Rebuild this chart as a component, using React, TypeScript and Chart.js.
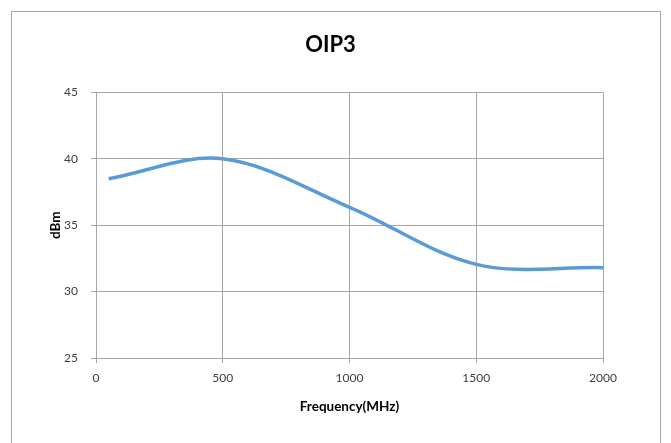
import React, { useEffect, useRef } from "react";
import { Chart, registerables } from "chart.js";

Chart.register(...registerables);

const frequencies = [50, 500, 1000, 1500, 2000];
const oip3 = [38.5, 40.0, 36.35, 32.05, 31.8];
const xTicks = [0, 500, 1000, 1500, 2000];
const yTicks = [25, 30, 35, 40, 45];

const FONT = "Lato, 'Open Sans', sans-serif";

const frame = {
  id: "frame",
  beforeDraw(chart: any) {
    const ctx = chart.ctx;
    ctx.save();
    ctx.fillStyle = "#ffffff";
    ctx.fillRect(0, 0, chart.width, chart.height);
    ctx.strokeStyle = "#a6a6a6";
    ctx.lineWidth = 1;
    ctx.strokeRect(11.5, 11.5, 649, 450);
    ctx.restore();
  },
};

export default function App() {
  const ref = useRef<HTMLCanvasElement | null>(null);
  useEffect(() => {
    if (!ref.current) return;
    const chart = new Chart(ref.current, {
      type: "line",
      data: {
        datasets: [
          {
            label: "OIP3",
            data: frequencies.map((f, i) => ({ x: f, y: oip3[i] })),
            borderColor: "#5b9bd5",
            borderWidth: 3.5,
            pointRadius: 0,
            tension: 0.34,
            fill: false,
          },
        ],
      },
      options: {
        responsive: false,
        animation: false,
        layout: { padding: { left: 58, right: 68, top: 0, bottom: 0 } },
        plugins: {
          legend: { display: false },
          tooltip: { enabled: false },
          title: {
            display: true,
            text: "OIP3",
            color: "#000000",
            font: { family: FONT, size: 22, weight: "bold" },
            padding: { top: 32, bottom: 34 },
          },
        },
        scales: {
          x: {
            type: "linear",
            min: 0,
            max: 2000,
            afterBuildTicks: (s: any) => {
              s.ticks = xTicks.map((v) => ({ value: v }));
            },
            afterFit: (s: any) => {
              s.height = 443 - 358;
            },
            grid: { color: "#a6a6a6", tickLength: 5, drawTicks: true },
            border: { color: "#a6a6a6" },
            ticks: {
              color: "#404040",
              padding: 8,
              font: { family: FONT, size: 12 },
              maxRotation: 0,
              callback: (v: any) => String(v),
            },
            title: {
              display: true,
              text: "Frequency(MHz)",
              color: "#000000",
              font: { family: FONT, size: 13.5, weight: "bold" },
              padding: { top: 0, bottom: 28 },
            },
          },
          y: {
            type: "linear",
            min: 25,
            max: 45,
            afterBuildTicks: (s: any) => {
              s.ticks = yTicks.map((v) => ({ value: v }));
            },
            afterFit: (s: any) => {
              s.width = 96 - 58;
            },
            grid: { color: "#a6a6a6", tickLength: 5, drawTicks: true },
            border: { color: "#a6a6a6" },
            ticks: {
              color: "#404040",
              padding: 13,
              font: { family: FONT, size: 12 },
              callback: (v: any) => String(v),
            },
            title: {
              display: true,
              text: "dBm",
              color: "#000000",
              font: { family: FONT, size: 13.5, weight: "bold" },
              padding: { top: -10, bottom: 0 },
            },
          },
        },
      },
      plugins: [frame],
    } as any);
    return () => chart.destroy();
  }, []);
  return (
    <div style={{ position: "absolute", left: 0, top: 0, width: 671, height: 443 }}>
      <canvas ref={ref} width={671} height={443} style={{ display: "block" }} />
    </div>
  );
}
